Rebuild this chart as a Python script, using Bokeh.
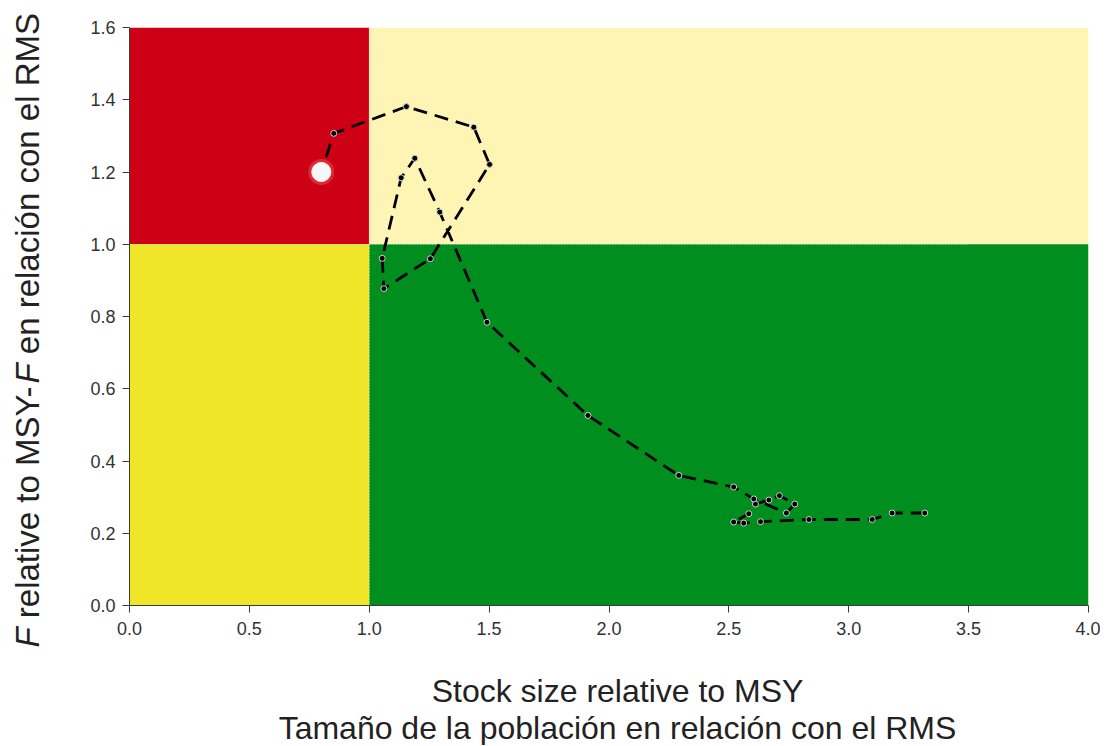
from bokeh.plotting import figure
from bokeh.models import Range1d, Label, NumeralTickFormatter
from bokeh.layouts import row, column
from bokeh.embed import file_html
from bokeh.resources import INLINE

# ---- data (chronological: from high stock / low F to the current year) ----
stock = [3.317, 3.181, 3.098, 2.834, 2.632, 2.562, 2.520, 2.583, 2.611, 2.667,
         2.711, 2.775, 2.740, 2.604, 2.520, 2.291, 1.912, 1.491, 1.294, 1.190,
         1.133, 1.054, 1.061, 1.255, 1.502, 1.436, 1.155, 0.852, 0.800]
fmort = [0.256, 0.256, 0.238, 0.238, 0.232, 0.228, 0.231, 0.254, 0.281, 0.292,
         0.304, 0.281, 0.256, 0.295, 0.328, 0.360, 0.526, 0.784, 1.089, 1.238,
         1.184, 0.961, 0.877, 0.960, 1.221, 1.324, 1.381, 1.307, 1.200]

x_ticks = [0.0, 0.5, 1.0, 1.5, 2.0, 2.5, 3.0, 3.5, 4.0]
y_ticks = [0.0, 0.2, 0.4, 0.6, 0.8, 1.0, 1.2, 1.4, 1.6]

B_REF = 1.0   # stock size at MSY (relative)
F_REF = 1.0   # F at MSY (relative)
X_MAX = 4.0
Y_MAX = 1.6

zone_left = [0.0, B_REF, 0.0, B_REF]
zone_right = [B_REF, X_MAX, B_REF, X_MAX]
zone_bottom = [F_REF, F_REF, 0.0, 0.0]
zone_top = [Y_MAX, Y_MAX, F_REF, F_REF]
zone_colors = ["#CD0016", "#FEF5B4", "#EFE62A", "#008F1F"]

x_title_1 = "Stock size relative to MSY"
x_title_2 = "Tamaño de la población en relación con el RMS"
y_title_parts = ["F", "relative to MSY-", "F", "en relación con el RMS"]
y_title_styles = ["italic", "normal", "italic", "normal"]

FONT = "Liberation Sans"
TOTAL_W = 1100
YT_W = 48
MAIN_H = 650
XT_H = 95


def blank_fig(w, h):
    f = figure(width=w, height=h, x_range=Range1d(0, w), y_range=Range1d(h, 0),
               output_backend="svg", toolbar_location=None,
               x_axis_type=None, y_axis_type=None,
               min_border=0, min_border_left=0, min_border_right=0,
               min_border_top=0, min_border_bottom=0)
    f.grid.visible = False
    f.outline_line_color = None
    f.background_fill_color = "white"
    f.border_fill_color = "white"
    f.frame_align = False
    return f


# ---- main plot ----
p = figure(width=TOTAL_W - YT_W, height=MAIN_H,
           x_range=Range1d(0, X_MAX), y_range=Range1d(0, Y_MAX),
           output_backend="svg", toolbar_location=None,
           min_border_left=81, min_border_right=12,
           min_border_top=27, min_border_bottom=45)
p.grid.visible = False
p.outline_line_color = None
p.background_fill_color = "white"
p.border_fill_color = "white"
p.frame_align = False

p.quad(left=zone_left, right=zone_right, bottom=zone_bottom, top=zone_top,
       fill_color=zone_colors, line_color=None)

p.segment(x0=[B_REF, B_REF], y0=[0.0, F_REF], x1=[B_REF, 3.5], y1=[Y_MAX, F_REF],
          line_color="#f4f4d8", line_alpha=0.7, line_width=1.2, line_dash="1 2")

p.line(stock, fmort, line_color="black", line_width=2.8, line_dash="14 8")
p.scatter(stock[:-1], fmort[:-1], size=6, fill_color="black",
          line_color="#d0d0d0", line_width=1)

p.scatter(stock[-1:], fmort[-1:], size=26, fill_color="#ff8a8a", fill_alpha=0.3,
          line_color=None)
p.scatter(stock[-1:], fmort[-1:], size=19, fill_color="#f7f7f7",
          line_color="#ffffff", line_width=1)

for ax in (p.xaxis[0], p.yaxis[0]):
    ax.axis_line_color = "#3a3a3a"
    ax.axis_line_width = 1
    ax.major_tick_line_color = "#3a3a3a"
    ax.major_tick_in = 0
    ax.major_tick_out = 7
    ax.minor_tick_line_color = None
    ax.major_label_text_font = FONT
    ax.major_label_text_font_size = "18px"
    ax.major_label_text_color = "#333333"
    ax.formatter = NumeralTickFormatter(format="0.0")

p.xaxis[0].ticker = x_ticks
p.yaxis[0].ticker = y_ticks
p.xaxis[0].major_label_standoff = 9
p.yaxis[0].major_label_standoff = 7

# ---- y title (left strip) ----
yt = blank_fig(YT_W, MAIN_H)
y_starts = [647.0, 617.7, 383.0, 353.7]   # text start positions (px from top)
for txt, style, ys in zip(y_title_parts, y_title_styles, y_starts):
    yt.add_layout(Label(x=27, y=ys, text=txt, angle=1.5707963,
                        text_align="left", text_baseline="middle",
                        text_font=FONT, text_font_style=style,
                        text_font_size="33px", text_color="#222222"))

# ---- x title (bottom strip) ----
xt = blank_fig(TOTAL_W, XT_H)
for txt, yy in ((x_title_1, 40), (x_title_2, 77)):
    xt.add_layout(Label(x=617, y=yy, text=txt, text_align="center",
                        text_baseline="middle", text_font=FONT,
                        text_font_size="32px", text_color="#222222"))

layout = column(row(yt, p, spacing=0), xt, spacing=0)

open("out.html", "w").write(file_html(layout, INLINE))
